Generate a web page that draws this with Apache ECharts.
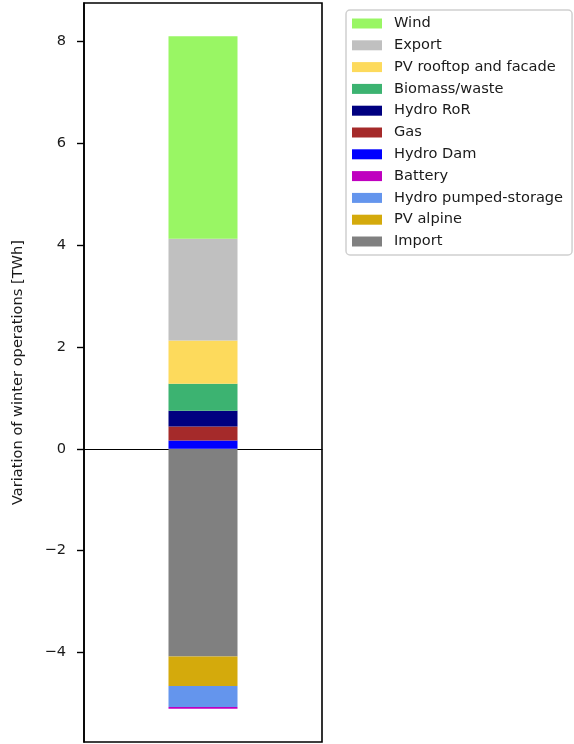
<!DOCTYPE html>
<html>
<head>
<meta charset="utf-8">
<script src="https://cdn.jsdelivr.net/npm/echarts@6/dist/echarts.min.js"></script>
<style>html,body{margin:0;padding:0;background:#fff}#c{width:574px;height:744px}</style>
</head>
<body>
<div id="c"></div>
<script>
const categories = [''];
// stacking order (first = closest to zero)
const seriesNames = ['Import', 'PV alpine', 'Hydro pumped-storage', 'Battery', 'Hydro Dam', 'Gas', 'Hydro RoR', 'Biomass/waste', 'PV rooftop and facade', 'Export', 'Wind'];
const seriesValues = [-4.08, -0.58, -0.41, -0.035, 0.163, 0.275, 0.31, 0.53, 0.85, 2.0, 3.98];
const seriesColors = ['#808080', '#d4aa0c', '#6495ed', '#bf00bf', '#0000ff', '#a52a2a', '#000080', '#3cb371', '#fdda5c', '#c0c0c0', '#99f664'];
const legendOrder = ['Wind', 'Export', 'PV rooftop and facade', 'Biomass/waste', 'Hydro RoR', 'Gas', 'Hydro Dam', 'Battery', 'Hydro pumped-storage', 'PV alpine', 'Import'];
const yTicks = [-4, -2, 0, 2, 4, 6, 8];
const yMin = -5.76, yMax = 8.76;
const yName = 'Variation of winter operations [TWh]';

const chart = echarts.init(document.getElementById('c'), null, {renderer: 'canvas'});
const font = 'DejaVu Sans';
const fs = 14.6;
chart.setOption({
  animation: false,
  textStyle: {fontFamily: font},
  grid: {left: 84, top: 3, width: 238, height: 739, show: true, borderColor: '#000', borderWidth: 1.6, backgroundColor: 'transparent'},
  legend: {
    data: legendOrder,
    orient: 'vertical',
    left: 346, top: 10,
    itemWidth: 30, itemHeight: 10, itemGap: 6.8,
    padding: [6, 9, 6, 6],
    borderColor: '#d0d0d0', borderWidth: 1.5, borderRadius: 4,
    icon: 'rect',
    textStyle: {fontFamily: font, fontSize: fs, color: '#1a1a1a', lineHeight: 14, padding: [0, 0, 0, 7]},
    selectedMode: false
  },
  xAxis: {
    type: 'category', data: categories,
    axisLine: {show: true, onZero: true, lineStyle: {color: '#000', width: 1}},
    axisTick: {show: false}, axisLabel: {show: false}, splitLine: {show: false}
  },
  yAxis: {
    type: 'value', min: yMin, max: yMax,
    name: yName, nameLocation: 'middle', nameGap: 58,
    nameTextStyle: {fontFamily: font, fontSize: fs, color: '#1a1a1a'},
    axisLine: {show: true, lineStyle: {color: '#000', width: 1.6}},
    axisTick: {show: true, length: 7, customValues: yTicks, lineStyle: {color: '#000', width: 1.4}},
    axisLabel: {customValues: yTicks, fontFamily: font, fontSize: fs, color: '#1a1a1a', margin: 18,
      formatter: v => (v < 0 ? '\u2212' + Math.abs(v) : String(v))},
    splitLine: {show: false}
  },
  series: seriesNames.map((n, i) => ({
    name: n, type: 'bar', stack: 'total',
    barWidth: 69,
    itemStyle: {color: seriesColors[i]},
    data: [seriesValues[i]]
  }))
});
</script>
</body>
</html>
